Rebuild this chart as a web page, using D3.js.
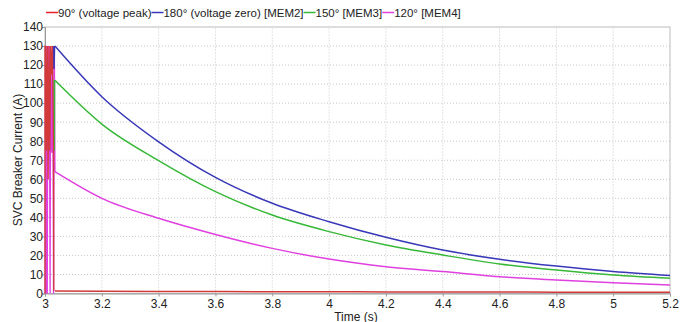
<!DOCTYPE html>
<html><head><meta charset="utf-8">
<script src="https://cdn.jsdelivr.net/npm/d3@7"></script>
<style>body{margin:0;background:#fff;}svg{font-family:"Liberation Sans",Arial,sans-serif;}</style>
</head><body><svg id="c" width="698" height="322"></svg>
<script>
const seriesNames = ["90° (voltage peak)", "180° (voltage zero) [MEM2]", "150° [MEM3]", "120° [MEM4]"];
const seriesColors = ["#e8202a", "#3838b8", "#38b838", "#e040e0"];
const xTicks = [3, 3.2, 3.4, 3.6, 3.8, 4, 4.2, 4.4, 4.6, 4.8, 5, 5.2];
const yTicks = [0,10,20,30,40,50,60,70,80,90,100,110,120,130,140];

// time points (s)
const decayTimes = [3.035, 3.2, 3.4, 3.6, 3.8, 4.0, 4.2, 4.4, 4.6, 4.8, 5.0, 5.2];
const blueDecay    = [130, 103.4, 79.7, 61, 47.4, 37.7, 29.5, 22.8, 18, 14.4, 11.5, 9.4];
const greenDecay   = [112, 89, 69.8, 53.5, 41.2, 32.5, 25.5, 20.2, 15.5, 12.3, 9.7, 8];
const magentaDecay = [64, 50, 39.5, 31, 23.7, 18.1, 14.1, 11.5, 8.8, 7.1, 5.7, 4.5];
const redDecay     = [1.3, 1.2, 1.1, 1.0, 0.95, 0.9, 0.85, 0.8, 0.75, 0.7, 0.65, 0.6];

// transient (switching) portion, clipped at 130
const redTransT  = [3.0, 3.0, 3.002, 3.005, 3.008, 3.011, 3.014, 3.017, 3.020, 3.023, 3.026, 3.030, 3.031];
const redTransV  = [0, 130, 130, 75, 130, 60, 130, 75, 130, 115, 130, 75, 1.3];
const magTransT  = [3.001, 3.002, 3.004, 3.006, 3.008, 3.010, 3.012, 3.015, 3.018, 3.020, 3.024, 3.027, 3.030, 3.033, 3.035];
const magTransV  = [0, 130, 0, 130, 0, 130, 74, 130, 0, 130, 74, 130, 0, 130, 64];
const blueTransT = [3.028, 3.030, 3.032, 3.034];
const blueTransV = [118, 130, 118, 130];
const greenTransT = [3.031, 3.032, 3.033, 3.034];
const greenTransV = [75, 112, 75, 112];

const svg = d3.select("#c");
const m = {l:45, r:28, t:27, b:28.5};
const W = 698, H = 322;
const x = d3.scaleLinear().domain([3, 5.2]).range([m.l, W - m.r]);
const y = d3.scaleLinear().domain([0, 140]).range([H - m.b, m.t]);

// grid
svg.append("g").selectAll("line").data(xTicks.slice(1, -1)).join("line")
  .attr("x1", d => x(d)).attr("x2", d => x(d)).attr("y1", y(0)).attr("y2", y(140))
  .attr("stroke", "#c8c8c8").attr("stroke-dasharray", "1,2");
svg.append("g").selectAll("line").data(yTicks.slice(1, -1)).join("line")
  .attr("x1", x(3)).attr("x2", x(5.2)).attr("y1", d => y(d)).attr("y2", d => y(d))
  .attr("stroke", "#c8c8c8").attr("stroke-dasharray", "1,2");
// frame
svg.append("rect").attr("x", x(3)).attr("y", y(140)).attr("width", x(5.2) - x(3)).attr("height", y(0) - y(140))
  .attr("fill", "none").attr("stroke", "#bcbcbc");

// axes
const xa = svg.append("g").attr("transform", `translate(0,${y(0)})`)
  .call(d3.axisBottom(x).tickValues(xTicks).tickFormat(d3.format("~g")).tickSize(3).tickPadding(2));
const ya = svg.append("g").attr("transform", `translate(${x(3)},0)`)
  .call(d3.axisLeft(y).tickValues(yTicks).tickSize(3));
[xa, ya].forEach(a => {
  a.select(".domain").attr("stroke", "#999");
  a.selectAll(".tick line").attr("stroke", "#999");
  a.selectAll("text").attr("font-size", 12).attr("fill", "#222").attr("font-family", "Liberation Sans, Arial, sans-serif");
});
xa.selectAll("text").attr("dy", "0.75em");
ya.selectAll("text").attr("x", -2);

const line = d3.line().x(d => x(d[0])).y(d => y(d[1]));
const curve = d3.line().x(d => x(d[0])).y(d => y(d[1])).curve(d3.curveMonotoneX);
const zip = (a, b) => a.map((t, i) => [t, b[i]]);

function draw(tT, tV, dT, dV, color) {
  svg.append("path").attr("d", line(zip(tT, tV))).attr("fill", "none").attr("stroke", color).attr("stroke-width", 1.3);
  svg.append("path").attr("d", curve(zip(dT, dV))).attr("fill", "none").attr("stroke", color).attr("stroke-width", 1.5);
}
draw(magTransT, magTransV, decayTimes, magentaDecay, seriesColors[3]);
draw(greenTransT, greenTransV, decayTimes, greenDecay, seriesColors[2]);
draw(blueTransT, blueTransV, decayTimes, blueDecay, seriesColors[1]);
draw(redTransT, redTransV, decayTimes, redDecay, "#d23a3a");

// axis titles
svg.append("text").attr("x", 356).attr("y", 320.5).attr("text-anchor", "middle").attr("font-size", 12).attr("fill", "#222").text("Time (s)");
svg.append("text").attr("transform", "translate(22,160) rotate(-90)").attr("text-anchor", "middle").attr("font-size", 12).attr("fill", "#222").text("SVC Breaker Current (A)");

// legend
let lx = 46;
const lg = svg.append("g");
seriesNames.forEach((n, i) => {
  lg.append("line").attr("x1", lx).attr("x2", lx + 12).attr("y1", 12.5).attr("y2", 12.5).attr("stroke", seriesColors[i]).attr("stroke-width", 1.5);
  const t = lg.append("text").attr("x", lx + 12).attr("y", 17).attr("font-size", 11.5).attr("fill", "#222").text(n);
  lx += 12 + t.node().getComputedTextLength();
});
</script></body></html>
